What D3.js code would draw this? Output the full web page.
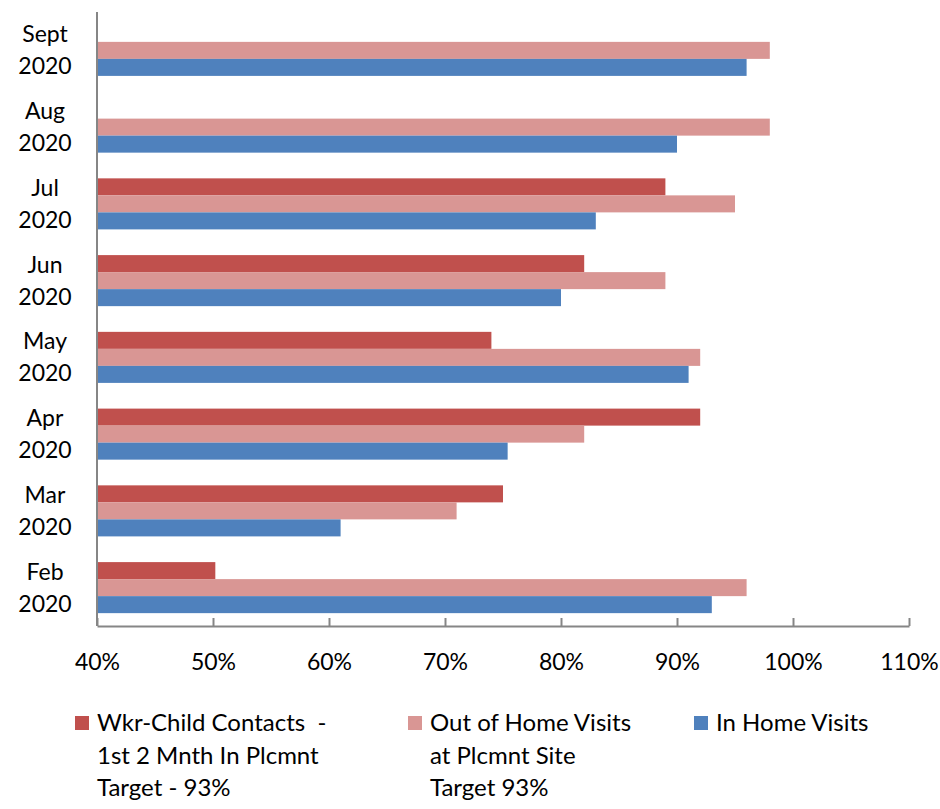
<!DOCTYPE html>
<html>
<head>
<meta charset="utf-8">
<script src="https://cdn.jsdelivr.net/npm/d3@7"></script>
<style>
  html, body { margin: 0; padding: 0; background: #fff; }
  svg text { font-family: Lato, "Open Sans", sans-serif; fill: #000; }
</style>
</head>
<body>
<svg id="chart" width="940" height="809"></svg>
<script>
const months = ["Sept", "Aug", "Jul", "Jun", "May", "Apr", "Mar", "Feb"];
const years = ["2020", "2020", "2020", "2020", "2020", "2020", "2020", "2020"];
const wkrChild = [null, null, 0.89, 0.82, 0.74, 0.92, 0.75, 0.502];
const outOfHome = [0.98, 0.98, 0.95, 0.89, 0.92, 0.82, 0.71, 0.96];
const inHome = [0.96, 0.90, 0.83, 0.80, 0.91, 0.754, 0.61, 0.93];
const xTicks = [0.4, 0.5, 0.6, 0.7, 0.8, 0.9, 1.0, 1.1];
const seriesNames = ["wkr", "out", "in"];
const seriesColors = ["#C0504D", "#D99694", "#4F81BD"];
const legendLines = [
  ["Wkr-Child Contacts  -", "1st 2 Mnth In Plcmnt", "Target - 93%"],
  ["Out of Home Visits", "at Plcmnt Site", "Target 93%"],
  ["In Home Visits"]
];

const svg = d3.select("#chart");
const plotLeft = 97, plotRight = 909, plotTop = 12, plotBottom = 626;

const x = d3.scaleLinear().domain([0.4, 1.1]).range([plotLeft, plotRight]);
const y = d3.scaleBand().domain(months).range([plotTop, plotBottom]).paddingInner(0.335).paddingOuter(0.1675);
const ys = d3.scaleBand().domain(seriesNames).range([0, y.bandwidth()]);

const seriesData = [wkrChild, outOfHome, inHome];
const rows = [];
months.forEach((m, i) => {
  seriesNames.forEach((s, j) => {
    const v = seriesData[j][i];
    if (v != null) rows.push({ m, s, v, c: seriesColors[j] });
  });
});

svg.append("g").selectAll("rect").data(rows).join("rect")
  .attr("x", x(0.4))
  .attr("y", d => y(d.m) + ys(d.s))
  .attr("width", d => x(d.v) - x(0.4))
  .attr("height", ys.bandwidth())
  .attr("fill", d => d.c);

// X axis
const xAxis = d3.axisBottom(x).tickValues(xTicks).tickSizeInner(-8).tickSizeOuter(0)
  .tickFormat(d3.format(".0%"));
const gx = svg.append("g").attr("transform", `translate(0,${plotBottom})`).call(xAxis);
gx.select(".domain").attr("stroke", "#868686").attr("stroke-width", 2);
gx.selectAll(".tick line").attr("stroke", "#868686").attr("stroke-width", 2);
gx.selectAll(".tick text").attr("y", 36).attr("dy", "0.35em")
  .style("font-size", "23px").style("font-family", "Lato, sans-serif").attr("fill", "#000");

// Y axis line
svg.append("line").attr("x1", plotLeft).attr("x2", plotLeft).attr("y1", plotTop).attr("y2", plotBottom)
  .attr("stroke", "#868686").attr("stroke-width", 2);

// Category labels
const cl = svg.append("g");
months.forEach((m, i) => {
  const cy = y(m) + y.bandwidth() / 2;
  cl.append("text").attr("x", 45).attr("y", cy - 16).attr("dy", "0.35em")
    .attr("text-anchor", "middle").style("font-size", "23px").text(m);
  cl.append("text").attr("x", 45).attr("y", cy + 16).attr("dy", "0.35em")
    .attr("text-anchor", "middle").style("font-size", "23px").text(years[i]);
});

// Legend
const legendX = [75, 408, 694];
const lg = svg.append("g");
legendLines.forEach((lines, i) => {
  lg.append("rect").attr("x", legendX[i]).attr("y", 716).attr("width", 14).attr("height", 14)
    .attr("fill", seriesColors[i]);
  lines.forEach((t, k) => {
    lg.append("text").attr("x", legendX[i] + 22).attr("y", 723 + k * 32.5).attr("dy", "0.35em")
      .style("font-size", "24px").style("white-space", "pre").attr("xml:space", "preserve").text(t);
  });
});
</script>
</body>
</html>
